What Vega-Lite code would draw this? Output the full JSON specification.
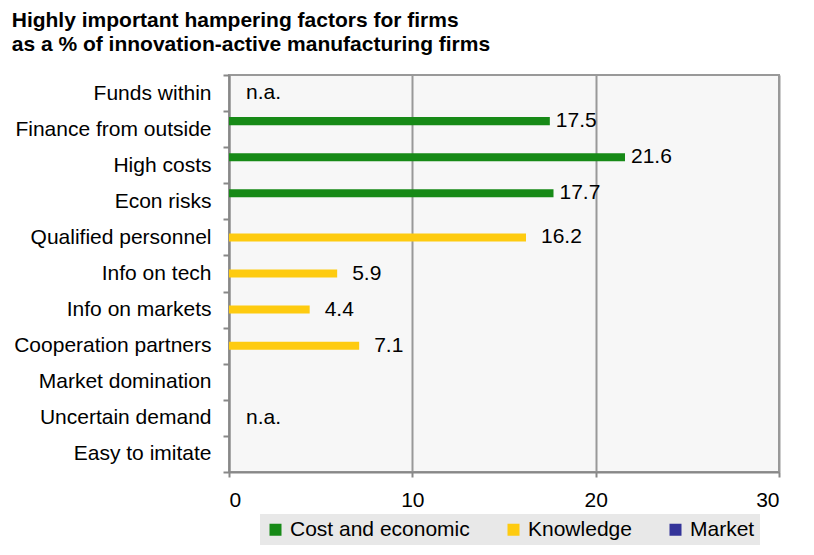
{
  "$schema": "https://vega.github.io/schema/vega-lite/v6.json",
  "autosize": {"type": "none"},
  "padding": {"left": 229, "top": 75, "right": 35, "bottom": 83},
  "width": 550,
  "height": 397,
  "background": "#ffffff",
  "title": {
    "text": ["Highly important hampering factors for firms", "as a % of innovation-active manufacturing firms"],
    "anchor": "start",
    "frame": "bounds",
    "font": "Liberation Sans",
    "fontSize": 21,
    "fontWeight": "bold",
    "color": "#000000",
    "lineHeight": 24,
    "offset": 9,
    "dx": -2
  },
  "config": {
    "view": {"fill": "#f7f7f7", "stroke": "#999999", "strokeWidth": 2},
    "font": "Liberation Sans",
    "text": {"font": "Liberation Sans"}
  },
  "data": {
    "values": [
      {"factor": "Funds within", "group": null, "value": null, "label": "n.a."},
      {"factor": "Finance from outside", "group": "Cost and economic", "value": 17.5, "label": "17.5"},
      {"factor": "High costs", "group": "Cost and economic", "value": 21.6, "label": "21.6"},
      {"factor": "Econ risks", "group": "Cost and economic", "value": 17.7, "label": "17.7"},
      {"factor": "Qualified personnel", "group": "Knowledge", "value": 16.2, "label": "16.2"},
      {"factor": "Info on tech", "group": "Knowledge", "value": 5.9, "label": "5.9"},
      {"factor": "Info on markets ", "group": "Knowledge", "value": 4.4, "label": "4.4"},
      {"factor": "Cooperation partners", "group": "Knowledge", "value": 7.1, "label": "7.1"},
      {"factor": "Uncertain demand", "group": null, "value": null, "label": "n.a."}
    ]
  },
  "encoding": {
    "y": {
      "field": "factor",
      "type": "nominal",
      "sort": null,
      "title": null,
      "scale": {
        "domain": ["Funds within", "Finance from outside", "High costs", "Econ risks", "Qualified personnel", "Info on tech", "Info on markets ", "Cooperation partners", "Market domination", "Uncertain demand", "Easy to imitate"],
        "paddingInner": 0,
        "paddingOuter": 0
      },
      "axis": {
        "tickBand": "extent",
        "domainColor": "#888888",
        "domainWidth": 2,
        "tickColor": "#888888",
        "tickWidth": 2,
        "tickSize": 6,
        "labelPadding": 12,
        "labelFontSize": 21,
        "labelColor": "#000000",
        "labelFont": "Liberation Sans",
        "grid": false,
        "labelLimit": 400
      }
    }
  },
  "layer": [
    {
      "mark": {"type": "bar"},
      "transform": [{"filter": "datum.value != null"}],
      "encoding": {
        "x": {
          "field": "value",
          "type": "quantitative",
          "title": null,
          "scale": {"domain": [0, 30], "nice": false},
          "axis": {
            "values": [0, 10, 20, 30],
            "domainColor": "#888888",
            "domainWidth": 2,
            "tickColor": "#888888",
            "tickWidth": 2,
            "tickSize": 5,
            "labelPadding": 12,
            "labelFontSize": 21,
            "labelColor": "#000000",
            "labelFont": "Liberation Sans",
            "grid": true,
            "gridColor": "#999999",
            "gridWidth": 2
          }
        },
        "yOffset": {
          "field": "group",
          "type": "nominal",
          "scale": {"domain": ["Cost and economic", "Knowledge", "Market"], "paddingInner": 0, "paddingOuter": 0.75}
        },
        "color": {
          "field": "group",
          "type": "nominal",
          "scale": {"domain": ["Cost and economic", "Knowledge", "Market"], "range": ["#178a17", "#fecb10", "#333399"]},
          "legend": {
            "title": null,
            "orient": "none",
            "legendX": 31,
            "legendY": 439,
            "direction": "horizontal",
            "fillColor": "#e8e8e8",
            "padding": 5,
            "columnPadding": 33,
            "symbolType": "square",
            "symbolSize": 144,
            "symbolStrokeWidth": 0,
            "labelFontSize": 21,
            "labelFont": "Liberation Sans",
            "labelColor": "#000000",
            "labelOffset": 4,
            "labelLimit": 400
          }
        }
      }
    },
    {
      "mark": {"type": "text", "align": "left", "baseline": "middle", "dx": 6, "fontSize": 21, "color": "#000000"},
      "transform": [{"filter": "datum.group == 'Cost and economic'"}],
      "encoding": {
        "x": {"field": "value", "type": "quantitative"},
        "yOffset": {"field": "group", "type": "nominal"},
        "text": {"field": "label"}
      }
    },
    {
      "mark": {"type": "text", "align": "left", "baseline": "middle", "dx": 15, "fontSize": 21, "color": "#000000"},
      "transform": [{"filter": "datum.group == 'Knowledge'"}],
      "encoding": {
        "x": {"field": "value", "type": "quantitative"},
        "yOffset": {"field": "group", "type": "nominal"},
        "text": {"field": "label"}
      }
    },
    {
      "mark": {"type": "text", "align": "left", "baseline": "middle", "dx": 17, "fontSize": 21, "color": "#000000"},
      "transform": [{"filter": "datum.label == 'n.a.'"}],
      "encoding": {
        "x": {"datum": 0},
        "text": {"field": "label"}
      }
    }
  ]
}
